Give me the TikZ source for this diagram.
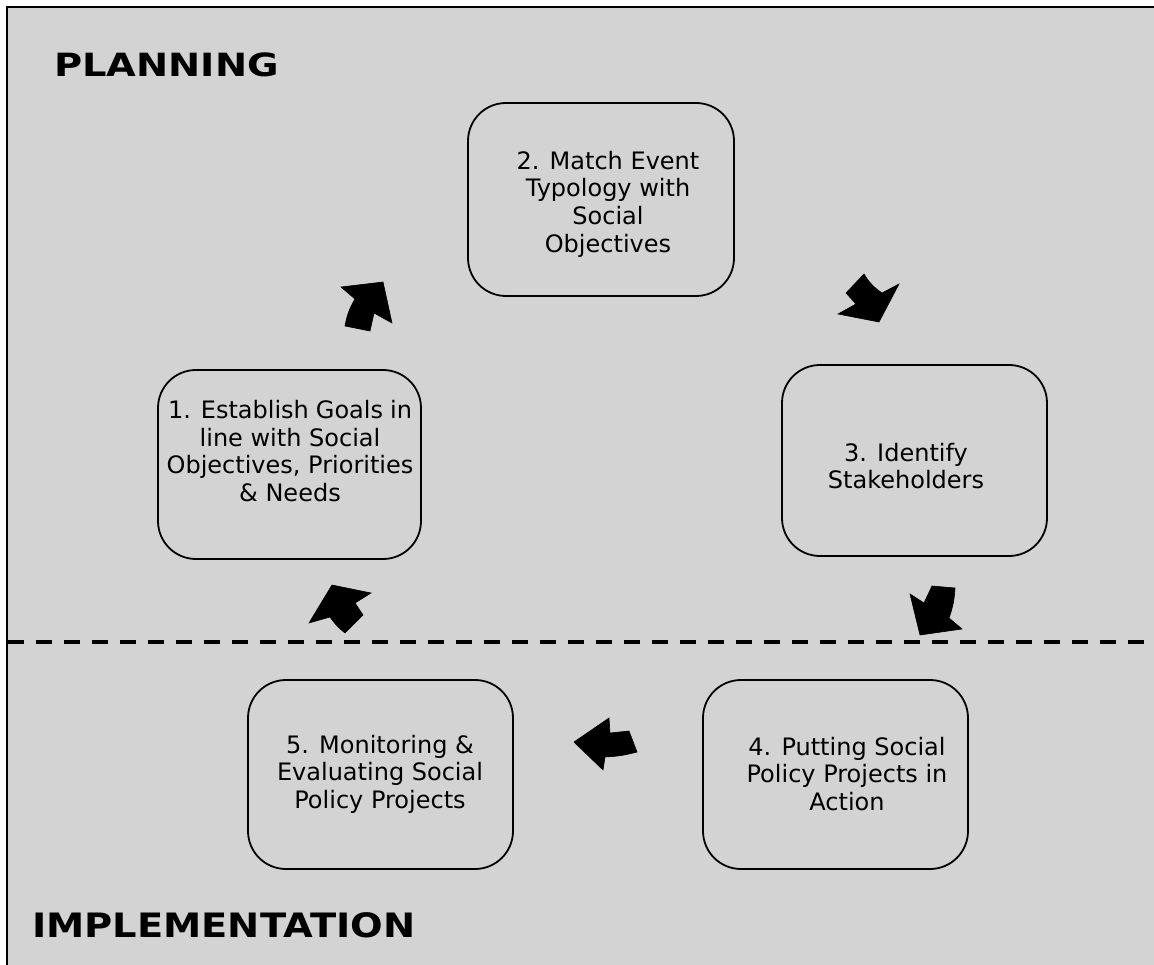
\documentclass[tikz,border=0pt]{standalone}
\usepackage{fontspec}
\setmainfont{DejaVu Sans}
\definecolor{bggray}{RGB}{211,211,211}
\begin{document}
\begin{tikzpicture}[x=1pt,y=-1pt,
  stagebox/.style={draw=black,line width=1.8pt,rounded corners=38pt,fill=bggray,inner sep=0pt},
  stagetext/.style={align=center,font=\fontsize{24}{27.6}\selectfont,inner sep=0pt},
  phase/.style={font=\fontsize{32}{38}\selectfont\bfseries,anchor=west,inner sep=0pt},
  blockarrow/.style={fill=black,draw=black,line width=0.6pt,line join=miter}]
\useasboundingbox (0,0) rectangle (1154,965);
\fill[white] (0,0) rectangle (1154,965);
\fill[bggray] (7,7) rectangle (1154,965);
\draw[line width=2pt] (7,965) -- (7,7) -- (1154,7);
% dashed divider
\draw[line width=4pt,dash pattern=on 16pt off 12pt] (8,642) -- (1144,642);
% phase titles
\node[phase] (plan) at (54,65) {\scalebox{1.2}[1]{PLANNING}};
\node[phase] (impl) at (32,925) {\scalebox{1.2}[1.05]{IMPLEMENTATION}};
% boxes
\node[stagebox,minimum width=263pt,minimum height=189pt] (b1) at (289.5,464.5) {};
\node[stagebox,minimum width=266pt,minimum height=193pt] (b2) at (601,199.5) {};
\node[stagebox,minimum width=265pt,minimum height=191pt] (b3) at (914.5,460.5) {};
\node[stagebox,minimum width=265pt,minimum height=189pt] (b4) at (835.5,774.5) {};
\node[stagebox,minimum width=265pt,minimum height=189pt] (b5) at (380.5,774.5) {};
% texts
\node[stagetext] (t1) at (290,451) {\makebox[244pt][s]{1. Establish Goals in}\\line with Social\\Objectives, Priorities\\\& Needs};
\node[stagetext] (t2) at (608,204) {2. Match Event\\Typology with\\Social\\Objectives};
\node[stagetext] (t3) at (906,466) {3. Identify\\Stakeholders};
\node[stagetext] (t4) at (847,774) {4. Putting Social\\Policy Projects in\\Action};
\node[stagetext] (t5) at (380,774) {5. Monitoring \&\\Evaluating Social\\Policy Projects};
% block arrows
\filldraw[blockarrow] (341,287) -- (383,282) -- (392,323) -- (374,313) -- (370,331) -- (345,326) to[bend left=10] (355,299) -- cycle;
\filldraw[blockarrow] (879,322) -- (899,284) -- (882,293) to[bend left=12] (864,274) -- (846,293) -- (856,304) -- (838,314) -- cycle;
\filldraw[blockarrow] (920,635) -- (910,594) -- (924,603) -- (932,586) -- (955,588) to[bend left=8] (949,618) -- (962,629) -- cycle;
\filldraw[blockarrow] (574,742) -- (609,718) -- (610,733) -- (629,731) -- (637,752) to[bend left=6] (605,757) -- (603,770) -- cycle;
\filldraw[blockarrow] (332,585) -- (371,593) -- (355,603) -- (363,615) -- (345,633) to[bend left=8] (330,617) -- (309,623) -- cycle;
\end{tikzpicture}
\end{document}
